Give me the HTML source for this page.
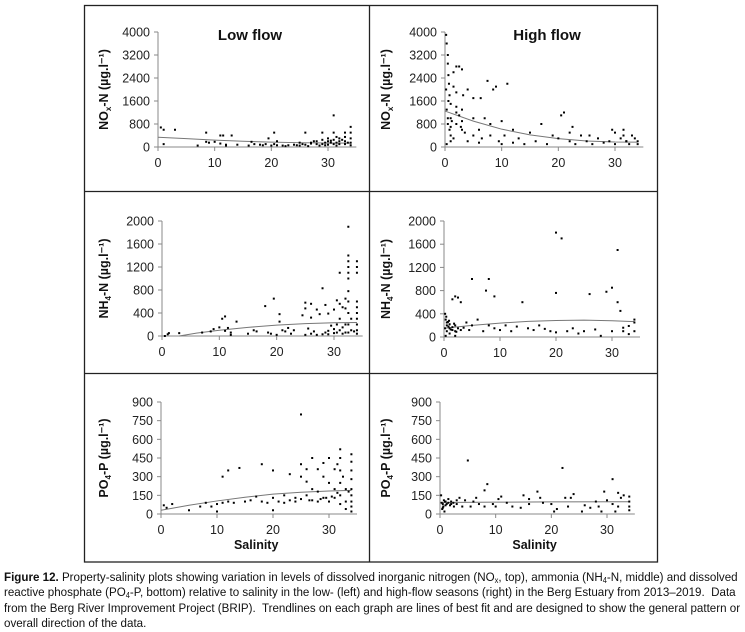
<!DOCTYPE html>
<html><head><meta charset="utf-8">
<style>
body{margin:0;background:#fff;width:745px;height:632px;overflow:hidden;position:relative;font-family:"Liberation Sans",sans-serif;}
svg{position:absolute;left:0;top:0;}
#cap{position:absolute;left:4px;top:570px;width:900px;font-family:"Liberation Sans",sans-serif;font-size:12.4px;line-height:15.3px;color:#111;white-space:nowrap;transform:scaleX(0.935);transform-origin:0 0;}
#cap b{font-weight:bold;}
#cap sub{font-size:8px;line-height:0;vertical-align:-2px;}
</style></head><body>
<svg id="chart" width="745" height="632"></svg>
<div id="cap"><b>Figure 12.</b> Property-salinity plots showing variation in levels of dissolved inorganic nitrogen (NO<sub>x</sub>, top), ammonia (NH<sub>4</sub>-N, middle) and dissolved<br>reactive phosphate (PO<sub>4</sub>-P, bottom) relative to salinity in the low- (left) and high-flow seasons (right) in the Berg Estuary from 2013–2019.&nbsp; Data<br>from the Berg River Improvement Project (BRIP).&nbsp; Trendlines on each graph are lines of best fit and are designed to show the general pattern or<br>overall direction of the data.</div>
<script>
const xTicks=[0,10,20,30];
const noxTicks=[0,800,1600,2400,3200,4000];
const nh4Ticks=[0,400,800,1200,1600,2000];
const po4Ticks=[0,150,300,450,600,750,900];

const noxLowX=[0.5,1,1,3,7,8.5,8.5,9,10,11,11,11.5,12,12,13,14,16,16.5,17,18,18.5,19,19.5,20,20.5,20.5,21,21,22,23,24,25,25,25.5,26,26,27,27.5,28,28,29,29,29,29.5,30,30,30,30.5,31,31,31,31,31.5,31.5,32,32,32,32.5,33,33,33,33,34,34,34,34,34,28.5,26.5,22.5,24.5,27,29.5,30.5,31.5,33.5];
const noxLowY=[680,600,100,600,50,500,180,150,180,400,120,400,80,50,400,80,50,180,100,80,60,100,300,50,500,100,60,200,50,60,80,50,150,100,500,80,150,200,100,200,500,250,100,150,300,200,80,150,500,1100,250,100,350,150,300,200,100,250,500,350,200,100,700,500,300,150,60,50,30,30,60,120,60,220,50,150];
const noxLowTX=[0,5,10,15,20,25,30,34];
const noxLowTY=[340,290,240,200,170,150,140,135];

const noxHighX=[0.2,0.3,0.5,0.5,0.6,0.7,0.8,1,0.3,0.5,0.5,0.8,1,1,0.3,1.5,2,2.5,3,1.5,2,2,2.5,3,3,1.5,2,3.5,4,4,5,5,6,6.5,7,7.5,8,8.5,9,9.5,10,10.5,11,12,13,14,15,16,17,18,19,20,21,22,22.5,23,24,25,26,27,28,29,30,30,31,31.5,32,32.5,33,34,34,33.5,1,2,1,3,5,6,8,12,0.2,0.6,1.2,2.8,3.2,6.3,10,20.5,22,25.5,29.5,31.5,32];
const noxHighY=[3900,3600,3200,2900,2500,2200,1800,1500,1300,1000,800,600,400,200,100,2600,2800,2800,2700,2100,1900,1400,1100,900,600,300,800,500,200,2000,1700,1000,600,300,1000,2300,800,2000,2100,200,900,400,2200,600,300,100,500,200,800,100,400,300,1200,200,700,100,400,200,100,300,150,200,500,100,300,600,200,100,400,200,100,300,1000,1200,700,1300,400,150,400,150,2000,1600,900,700,1800,1700,100,1100,500,400,600,400,200];
const noxHighTX=[0,5,10,15,20,25,30,34];
const noxHighTY=[1250,900,620,420,290,210,175,170];

const nh4LowX=[0.5,1,1.2,3,7,8.5,9,10,10.5,11,11,11.5,12,12,13,15,16,16.5,18,18.5,19,19.5,20,20.5,20.5,21,21.5,22,22.5,23,24.5,25,25,25,25.5,26,26,26,26.5,27,27.5,28,28,28.5,29,29,29.5,30,30,30,30.5,30.5,31,31,31,31,31.5,31.5,32,32,32,32,32.5,32.5,32.5,32.5,32.5,32.5,32.5,32.5,32.5,32.5,32.5,33,33,34,34,34,34,34,34,34,34,34,34,29,30.5,31.5,33.5,27,28.5];
const nh4LowY=[0,30,50,50,60,80,120,150,300,340,90,140,60,20,250,40,100,80,520,60,40,650,20,380,250,100,80,140,40,100,360,580,480,20,130,560,320,40,80,460,380,830,30,540,390,90,180,460,120,50,620,200,1100,560,300,100,500,40,650,480,200,60,1900,1400,1300,1200,1100,1000,780,600,400,200,60,300,100,1300,1200,1100,600,500,400,300,200,100,40,30,60,150,80,20,60];
const nh4LowTX=[3,6,10,15,20,25,30,34];
const nh4LowTY=[0,50,100,150,190,215,230,235];

const nh4HighX=[0.2,0.3,0.5,0.5,0.8,1,1,1.5,1.5,2,2,2.5,3,0.5,1,2,0.3,1.5,2,2.5,3,4,5,5,6,7,7.5,8,8,9,9,10,11,12,13,14,15,16,17,18,19,20,20,20,21,22,23,24,25,26,27,28,29,30,30,31,31,31.5,32,32,33,33,34,34,34,0.2,0.7,1.2,1.8,2.2,3.5,4.5,0.4,0.9];
const nh4HighY=[400,300,250,200,180,150,220,170,120,100,200,150,120,100,60,20,20,650,700,680,600,250,1000,200,300,100,800,1000,200,700,150,120,200,100,180,600,150,120,200,140,100,1800,760,80,1700,100,150,60,100,740,130,20,780,850,100,1500,600,450,160,100,190,50,300,100,250,150,260,130,230,90,160,120,350,280];
const nh4HighTX=[0,5,10,15,20,25,30,34];
const nh4HighTY=[150,200,240,270,285,290,280,265];

const po4LowX=[0.5,1,2,5,7,8,9,10,11,11,12,12,13,14,15,16,17,18,18,19,20,20,21,22,23,23,24,25,25,25,25,26,26,26,27,27,27,28,28,28,29,29,29,30,30,30,31,31,31,31.5,32,32,32,32,32,32,32.5,33,33,33,34,34,34,34,34,34,34,34,34,20,10,22,24,26.5,28.5,29.5,30.5,31.5,33.5];
const po4LowY=[70,50,80,30,60,90,60,80,300,90,350,100,90,370,100,110,140,400,100,90,350,130,100,150,320,110,130,800,400,300,120,360,260,150,450,200,110,360,180,100,410,300,130,450,250,100,360,200,130,400,520,450,350,250,150,80,300,200,100,40,480,420,350,280,200,150,100,60,20,30,20,90,100,110,120,130,140,170,180];
const po4LowTX=[0,5,10,15,20,25,30,34];
const po4LowTY=[30,70,105,135,160,175,185,190];

const po4HighX=[0.2,0.5,0.5,0.8,1,1,1.5,1.5,2,2,2.5,3,3,3.5,4,4.5,5,5.5,6,6.5,7,8,8.5,8,9.5,10,10.5,11,12,13,14.5,15,16,16,17.5,18,18.5,20,20.5,21,22,22.5,23,23.5,24,25.5,26,27,28,28.5,29,29.5,30,31,31,31.5,32,32,32.5,33,34,34,34,34,0.3,0.6,0.9,1.2,1.8,2.4,0.4,0.7];
const po4HighY=[150,80,50,20,100,70,90,120,100,80,60,110,80,130,60,110,430,60,100,130,80,190,240,60,80,60,120,140,90,60,50,150,120,80,180,130,90,80,20,40,370,130,60,130,160,20,70,50,100,60,20,180,110,280,80,20,170,60,130,150,140,100,60,30,90,60,100,80,70,90,40,110];
const po4HighTX=[0,10,20,34];
const po4HighTY=[92,95,97,98];

const NS='http://www.w3.org/2000/svg';
const svg=document.getElementById('chart');
function mk(tag,attrs,parent){const e=document.createElementNS(NS,tag);for(const k in attrs)e.setAttribute(k,attrs[k]);(parent||svg).appendChild(e);return e;}

const frame=mk('g',{});


mk('rect',{x:84.5,y:5.5,width:573,height:556.5,fill:'none',stroke:'#222','stroke-width':1.3},frame);
mk('line',{x1:369.5,y1:5,x2:369.5,y2:562,stroke:'#222','stroke-width':1.3},frame);
mk('line',{x1:84,y1:191.5,x2:658,y2:191.5,stroke:'#222','stroke-width':1.3},frame);
mk('line',{x1:84,y1:373.5,x2:658,y2:373.5,stroke:'#222','stroke-width':1.3},frame);

function panel(o,xs,ys,tx,ty,yTicks,yMax){
  const g=mk('g',{});
  
  
  const X=v=>o.x0+(o.x30-o.x0)*v/30;
  const Y=v=>o.y0-(o.y0-o.yTop)*v/yMax;
  const xEnd=X(35);
  mk('line',{x1:o.x0,y1:o.yTop,x2:o.x0,y2:o.y0,stroke:'#888','stroke-width':1},g);
  mk('line',{x1:o.x0,y1:o.y0,x2:xEnd,y2:o.y0,stroke:'#888','stroke-width':1},g);
  yTicks.forEach(t=>{
    mk('line',{x1:o.x0-4,y1:Y(t),x2:o.x0,y2:Y(t),stroke:'#888'},g);
    const tl=mk('text',{x:o.x0-8,y:Y(t)+4.5,'text-anchor':'end','font-size':12.5,fill:'#222'},g);
    tl.textContent=t;
    
    
  });
  xTicks.forEach(t=>{
    mk('line',{x1:X(t),y1:o.y0,x2:X(t),y2:o.y0+4,stroke:'#888'},g);
    const tl=mk('text',{x:X(t),y:o.y0+20,'text-anchor':'middle','font-size':12.5,fill:'#222'},g);
    tl.textContent=t;
    
    
  });
  const pts=tx.map((v,i)=>X(v)+','+Y(ty[i])).join(' ');
  const tr=mk('polyline',{points:pts,fill:'none',stroke:'#777','stroke-width':1},g);
  
  
  xs.forEach((v,i)=>{
    const c=mk('rect',{x:X(v)-1,y:Y(ys[i])-1,width:2,height:2,fill:'#000'},g);
    
    
  });
  const yt=mk('text',{transform:`translate(${o.tx},${(o.yTop+o.y0)/2}) rotate(-90)`,'text-anchor':'middle','font-size':12.5,'font-weight':'bold',fill:'#111'},g);
  
  
  const a=mk('tspan',{},yt);a.textContent=o.t1;
  const s=mk('tspan',{'font-size':8,dy:3},yt);s.textContent=o.sub;
  const b=mk('tspan',{dy:-3},yt);b.textContent=o.t2;
  if(o.title){
    const h=mk('text',{x:o.titleX,y:40,'text-anchor':'middle','font-size':15,'font-weight':'bold',fill:'#111'},g);
    h.textContent=o.title;
    
    
  }
  if(o.xlabel){
    const h=mk('text',{x:X(17),y:549,'text-anchor':'middle','font-size':12.5,'font-weight':'bold',fill:'#111'},g);
    h.textContent='Salinity';
    
    
  }
}
panel({name:'nox-low-flow-panel',x0:158,x30:328,yTop:32,y0:147,tx:108,t1:'NO',sub:'x',t2:'-N (µg.l⁻¹)',title:'Low flow',titleX:250},noxLowX,noxLowY,noxLowTX,noxLowTY,noxTicks,4000);
panel({name:'nox-high-flow-panel',x0:445,x30:615,yTop:32,y0:147,tx:390,t1:'NO',sub:'x',t2:'-N (µg.l⁻¹)',title:'High flow',titleX:547},noxHighX,noxHighY,noxHighTX,noxHighTY,noxTicks,4000);
panel({name:'nh4-low-flow-panel',x0:162,x30:334,yTop:221,y0:336,tx:108,t1:'NH',sub:'4',t2:'-N (µg.l⁻¹)'},nh4LowX,nh4LowY,nh4LowTX,nh4LowTY,nh4Ticks,2000);
panel({name:'nh4-high-flow-panel',x0:444,x30:612,yTop:221,y0:337,tx:390,t1:'NH',sub:'4',t2:'-N (µg.l⁻¹)'},nh4HighX,nh4HighY,nh4HighTX,nh4HighTY,nh4Ticks,2000);
panel({name:'po4-low-flow-panel',x0:161,x30:329,yTop:402,y0:514,tx:108,t1:'PO',sub:'4',t2:'-P (µg.l⁻¹)',xlabel:true},po4LowX,po4LowY,po4LowTX,po4LowTY,po4Ticks,900);
panel({name:'po4-high-flow-panel',x0:440,x30:607,yTop:402,y0:514,tx:390,t1:'PO',sub:'4',t2:'-P (µg.l⁻¹)',xlabel:true},po4HighX,po4HighY,po4HighTX,po4HighTY,po4Ticks,900);
</script>
</body></html>
